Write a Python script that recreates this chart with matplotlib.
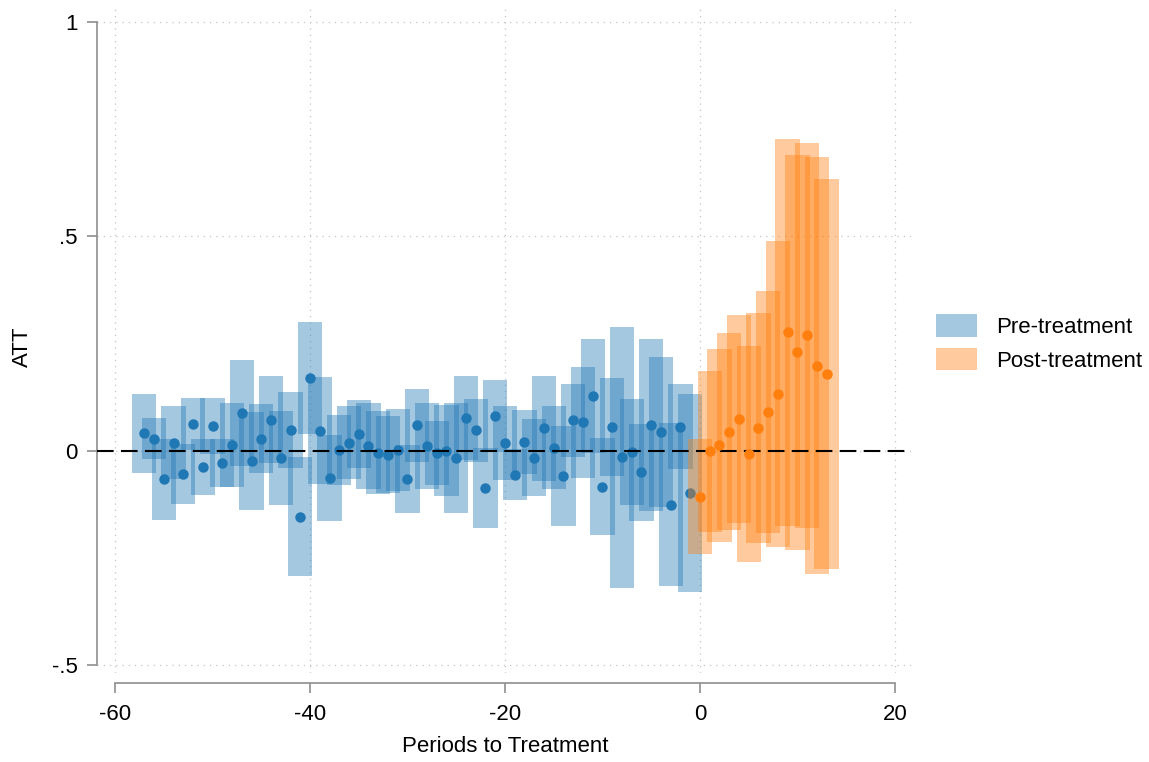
import numpy as np
import matplotlib
matplotlib.use("Agg")
import matplotlib.pyplot as plt
import matplotlib.patches as mpatches

plt.rcParams['font.family'] = ['Liberation Sans', 'DejaVu Sans']

# event-study estimates
pre_periods = list(range(-57, 0))
pre_att = [0.040, 0.028, -0.067, 0.018, -0.055, 0.062, -0.038, 0.057, -0.028, 0.013,
           0.087, -0.024, 0.028, 0.072, -0.017, 0.048, -0.154, 0.170, 0.046, -0.064,
           0.001, 0.018, 0.039, 0.010, -0.005, -0.010, 0.001, -0.066, 0.059, 0.010,
           -0.006, 0.000, -0.017, 0.077, 0.047, -0.088, 0.080, 0.017, -0.056, 0.020,
           -0.017, 0.052, 0.007, -0.059, 0.071, 0.066, 0.128, -0.084, 0.055, -0.016,
           -0.003, -0.051, 0.060, 0.043, -0.126, 0.056, -0.099]
pre_hw = [0.093, 0.048, 0.095, 0.085, 0.070, 0.060, 0.065, 0.065, 0.056, 0.097,
          0.124, 0.115, 0.080, 0.102, 0.110, 0.089, 0.138, 0.131, 0.125, 0.100,
          0.081, 0.085, 0.080, 0.100, 0.097, 0.090, 0.096, 0.079, 0.085, 0.100,
          0.074, 0.107, 0.128, 0.098, 0.074, 0.093, 0.084, 0.086, 0.059, 0.074,
          0.090, 0.123, 0.096, 0.116, 0.085, 0.130, 0.133, 0.113, 0.115, 0.305,
          0.124, 0.114, 0.200, 0.175, 0.191, 0.100, 0.232]

post_periods = list(range(0, 14))
post_att = [-0.108, -0.002, 0.012, 0.044, 0.074, -0.008, 0.053, 0.090, 0.132, 0.276,
            0.230, 0.269, 0.198, 0.178]
post_hw = [0.134, 0.187, 0.225, 0.230, 0.243, 0.253, 0.268, 0.282, 0.358, 0.452,
           0.461, 0.449, 0.487, 0.455]

xticks = [-60, -40, -20, 0, 20]
yticks = [-0.5, 0, 0.5, 1]
yticklabels = ['-.5', '0', '.5', '1']

blue = '#1f77b4'
orange = '#ff7f0e'
axis_grey = '#8f8f8f'

fig = plt.figure(figsize=(11.49, 7.62), dpi=100)
ax = fig.add_axes([97 / 1149, 89 / 762, 814 / 1149, 668 / 762])

pre_att = np.array(pre_att)
pre_hw = np.array(pre_hw)
post_att = np.array(post_att)
post_hw = np.array(post_hw)

# confidence bands as wide translucent bars, then the point estimates
ax.bar(pre_periods, 2 * pre_hw, bottom=pre_att - pre_hw, width=2.5,
       color=blue, alpha=0.4, linewidth=0, zorder=1)
ax.plot(pre_periods, pre_att, 'o', color=blue, ms=6.5, zorder=2)
ax.bar(post_periods, 2 * post_hw, bottom=post_att - post_hw, width=2.5,
       color=orange, alpha=0.4, linewidth=0, zorder=3)
ax.axhline(0, color='black', lw=1.5, dashes=(8, 3.5), zorder=4)
ax.plot(post_periods, post_att, 'o', color=orange, ms=6.5, zorder=5)

ax.set_xlim(-61.85, 21.65)
ax.set_ylim(-0.519, 1.04)
ax.set_xticks(xticks)
ax.set_xticklabels([str(t) for t in xticks])
ax.set_yticks(yticks)
ax.set_yticklabels(yticklabels)

ax.grid(True, color='#c4c4c4', linestyle=(0, (1, 4)), linewidth=0.9)
ax.set_axisbelow(True)

for s in ['top', 'right']:
    ax.spines[s].set_visible(False)
ax.spines['left'].set_bounds(-0.5, 1)
ax.spines['bottom'].set_bounds(-60, 20)
ax.spines['bottom'].set_position(('outward', 7.5))
for s in ['left', 'bottom']:
    ax.spines[s].set_color(axis_grey)
    ax.spines[s].set_linewidth(1.2)

ax.tick_params(axis='both', length=7, width=1.2, color=axis_grey,
               labelsize=16, labelcolor='black')
ax.tick_params(axis='y', pad=7)
ax.tick_params(axis='x', pad=8)

ax.set_xlabel('Periods to Treatment', fontsize=16)
ax.set_ylabel('ATT', fontsize=16)
ax.xaxis.set_label_coords(0.501, -0.095)
ax.yaxis.set_label_coords(-0.079, 0.488)

handles = [mpatches.Patch(facecolor=blue, alpha=0.4, linewidth=0, label='Pre-treatment'),
           mpatches.Patch(facecolor=orange, alpha=0.4, linewidth=0, label='Post-treatment')]
fig.legend(handles=handles, loc='center left', bbox_to_anchor=(936 / 1149, 1 - 343 / 762),
           frameon=False, fontsize=16, handlelength=1.85, handleheight=1.15,
           handletextpad=0.85, labelspacing=0.45, borderpad=0, borderaxespad=0)

fig.savefig('out.png', dpi=100)
